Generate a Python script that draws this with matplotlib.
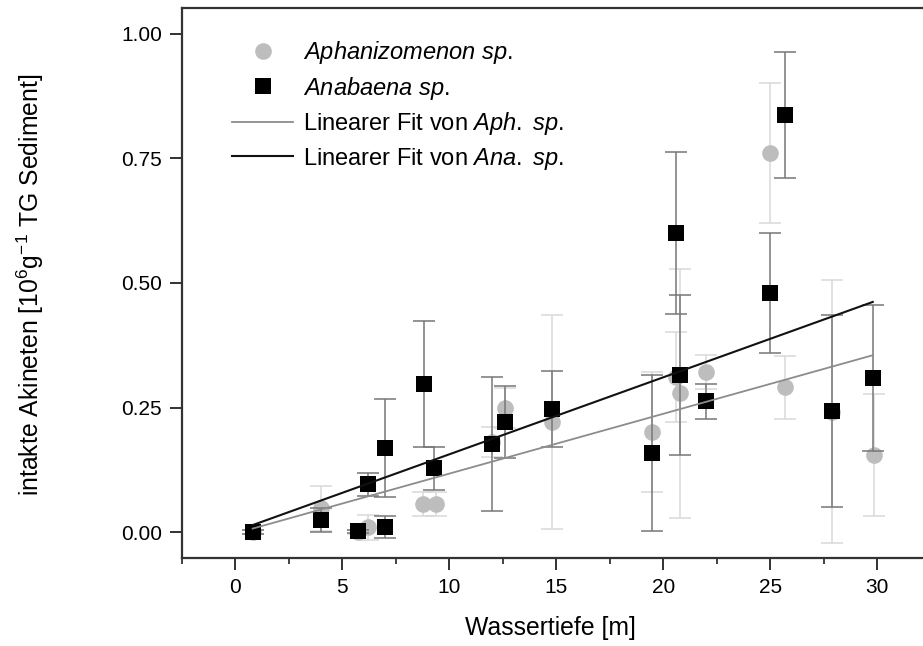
import matplotlib
matplotlib.use("Agg")
import matplotlib.pyplot as plt
from matplotlib.lines import Line2D
import numpy as np

plt.rcParams['font.family'] = ['Liberation Sans', 'DejaVu Sans']
plt.rcParams['mathtext.fontset'] = 'custom'
plt.rcParams['mathtext.rm'] = 'Liberation Sans'
plt.rcParams['mathtext.it'] = 'Liberation Sans:italic'

# Aphanizomenon sp. (grey circles)
aph_x = [0.8, 4.0, 5.75, 6.2, 8.75, 9.36, 12.0, 12.6, 14.8, 19.5, 20.6, 20.8, 22.0, 25.0, 25.7, 27.9, 29.85]
aph_y = [0.0, 0.048, 0.0, 0.01, 0.056, 0.056, 0.18, 0.249, 0.221, 0.201, 0.311, 0.279, 0.321, 0.761, 0.291, 0.242, 0.155]
aph_err = [0.004, 0.045, 0.004, 0.025, 0.024, 0.024, 0.03, 0.04, 0.215, 0.12, 0.09, 0.25, 0.034, 0.14, 0.063, 0.264, 0.123]

# Anabaena sp. (black squares)
ana_x = [0.8, 4.0, 5.75, 6.2, 6.97, 7.0, 8.8, 9.3, 12.0, 12.6, 14.8, 19.5, 20.6, 20.8, 22.0, 25.0, 25.7, 27.9, 29.8]
ana_y = [0.0, 0.024, 0.002, 0.096, 0.169, 0.01, 0.297, 0.128, 0.177, 0.221, 0.247, 0.159, 0.60, 0.315, 0.263, 0.48, 0.837, 0.243, 0.309]
ana_err = [0.004, 0.024, 0.003, 0.023, 0.099, 0.022, 0.127, 0.043, 0.135, 0.073, 0.076, 0.157, 0.163, 0.161, 0.035, 0.12, 0.127, 0.192, 0.146]

# Linear fits (end points)
fit_x = [0.8, 29.8]
fit_aph = [0.007, 0.355]
fit_ana = [0.014, 0.462]

xticks = [0, 5, 10, 15, 20, 25, 30]
yticks = [0.0, 0.25, 0.5, 0.75, 1.0]

fig = plt.figure(figsize=(9.23, 6.46), dpi=100)
ax = fig.add_axes([182 / 923, 1 - 558 / 646, (930.5 - 182) / 923, (558 - 8) / 646])

ax.errorbar(aph_x, aph_y, yerr=aph_err, fmt='none', ecolor='#d9d9d9',
            elinewidth=1.1, capsize=8, capthick=1.1, zorder=1)
ax.plot(aph_x, aph_y, 'o', color='#bdbdbd', markersize=12, markeredgewidth=0, zorder=2)
ax.errorbar(ana_x, ana_y, yerr=ana_err, fmt='none', ecolor='#777777',
            elinewidth=1.1, capsize=8, capthick=1.1, zorder=3)
ax.plot(ana_x, ana_y, 's', color='black', markersize=11, markeredgewidth=0, zorder=4)
ax.plot(fit_x, fit_aph, '-', color='#8c8c8c', linewidth=1.3, zorder=5)
ax.plot(fit_x, fit_ana, '-', color='#111111', linewidth=1.5, zorder=5)

ax.set_xlim(-2.5, 32.5)
ax.set_ylim(-0.052, 1.052)
ax.set_xticks(xticks)
ax.set_xticklabels([str(v) for v in xticks])
ax.set_xticks(np.arange(-2.5, 32.6, 2.5), minor=True)
ax.set_yticks(yticks)
ax.set_yticklabels([f"{v:.2f}" for v in yticks])
ax.tick_params(axis='both', which='major', direction='out', length=8.5, width=1.3,
               labelsize=15, color='#222222', pad=6)
ax.tick_params(axis='x', which='minor', direction='out', length=4.5, width=1.2, color='#222222')
ax.tick_params(axis='y', which='minor', left=False)
for s in ax.spines.values():
    s.set_linewidth(1.6)
    s.set_color('#333333')

fig.text(550 / 923, 1 - 628 / 646, 'Wassertiefe [m]', fontsize=17.8, ha='center', va='center')
fig.text(30 / 923, 1 - 285 / 646, r'intakte Akineten [10$^{6}$g$^{-1}$ TG Sediment]',
         fontsize=17.8, ha='center', va='center', rotation=90)

handles = [
    Line2D([], [], marker='o', color='#bdbdbd', linestyle='none', markersize=12, markeredgewidth=0),
    Line2D([], [], marker='s', color='black', linestyle='none', markersize=11, markeredgewidth=0),
    Line2D([], [], color='#8c8c8c', linewidth=1.3),
    Line2D([], [], color='#111111', linewidth=1.5),
]
labels = [r'$\mathit{Aphanizomenon\ sp.}$', r'$\mathit{Anabaena\ sp.}$',
          r'Linearer Fit von $\mathit{Aph.\ sp.}$', r'Linearer Fit von $\mathit{Ana.\ sp.}$']
fig.legend(handles, labels, loc='upper left', bbox_to_anchor=(232 / 923, 1 - 39 / 646),
           frameon=False, fontsize=17, handlelength=2.6, handletextpad=0.4,
           labelspacing=0.36, borderpad=0, borderaxespad=0)

fig.savefig('out.png', dpi=100)
